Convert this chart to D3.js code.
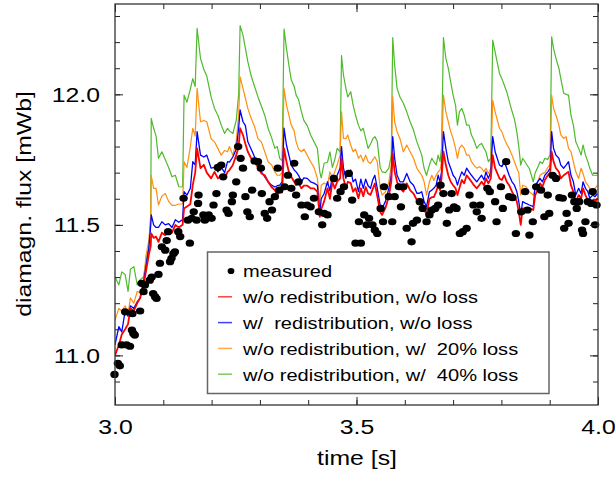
<!DOCTYPE html>
<html>
<head>
<meta charset="utf-8">
<script src="https://cdn.jsdelivr.net/npm/d3@7"></script>
<style>
body { margin: 0; background: #fff; }
text { font-family: "Liberation Sans", Arial, Helvetica, sans-serif; }
</style>
</head>
<body>
<script>
// time grid shared by the four simulated curves [s]
let simTime = [
  3.000,3.008,3.014,3.021,3.027,3.032,3.039,3.046,3.052,3.059,3.064,3.070,3.074,3.075,
  3.080,3.085,3.090,3.097,3.104,3.111,3.118,3.125,3.132,3.140,3.143,
  3.149,3.156,3.161,3.166,3.170,3.177,3.184,3.190,3.199,3.206,3.213,3.220,3.227,3.233,3.237,3.244,3.251,3.256,3.259,
  3.265,3.270,3.275,3.282,3.289,3.296,3.303,3.310,3.317,3.324,3.331,3.336,3.341,3.346,3.350,
  3.355,3.360,3.365,3.371,3.375,3.380,3.386,3.391,3.398,3.405,3.412,3.419,3.424,3.427,3.433,3.440,3.445,3.450,3.455,3.460,3.466,3.469,
  3.473,3.478,3.482,3.488,3.493,3.498,3.504,3.509,3.514,3.519,3.524,3.529,3.534,3.538,3.543,3.549,3.553,3.560,3.567,3.572,3.575,
  3.579,3.584,3.590,3.597,3.604,3.611,3.618,3.625,3.630,3.635,3.640,3.645,3.651,3.656,3.660,3.665,3.669,3.673,3.676,3.680,
  3.685,3.690,3.695,3.700,3.705,3.709,3.713,3.718,3.723,3.728,3.733,3.738,3.743,3.749,3.754,3.759,3.764,3.768,3.773,3.778,3.782,
  3.787,3.796,3.801,3.806,3.811,3.816,3.822,3.827,3.832,3.836,3.840,3.844,3.851,3.858,3.866,3.870,3.875,3.880,3.885,3.890,3.896,3.901,3.904,
  3.908,3.913,3.919,3.923,3.929,3.934,3.939,3.944,3.949,3.954,3.960,3.965,3.969,3.974,3.979,3.983,3.989,3.994,3.999
];

// w/o redistribution, w/o loss
let fluxRed = [
  11.00,11.04,11.08,11.10,11.12,11.18,11.17,11.20,11.22,11.27,11.32,11.385,11.42,11.467,
  11.45,11.455,11.435,11.47,11.46,11.48,11.47,11.50,11.49,11.50,11.563,
  11.57,11.58,11.652,11.70,11.793,11.717,11.73,11.70,11.678,11.703,11.678,11.69,11.678,11.703,11.71,11.729,11.767,11.80,11.87,
  11.844,11.81,11.78,11.755,11.742,11.72,11.697,11.69,11.665,11.645,11.633,11.614,11.64,11.625,11.793,
  11.742,11.703,11.684,11.665,11.652,11.66,11.64,11.65,11.65,11.64,11.64,11.627,11.531,11.56,11.59,11.64,11.60,11.665,11.64,11.665,11.678,11.755,
  11.678,11.64,11.665,11.66,11.627,11.64,11.602,11.64,11.61,11.645,11.62,11.615,11.64,11.659,11.61,11.55,11.538,11.565,11.61,11.665,11.774,
  11.703,11.665,11.64,11.627,11.659,11.633,11.62,11.595,11.60,11.59,11.563,11.538,11.60,11.606,11.606,11.627,11.652,11.633,11.678,11.78,
  11.729,11.69,11.665,11.652,11.64,11.614,11.64,11.672,11.659,11.69,11.678,11.665,11.652,11.64,11.652,11.665,11.652,11.678,11.659,11.678,11.767,
  11.717,11.678,11.672,11.69,11.665,11.652,11.627,11.608,11.589,11.55,11.50,11.563,11.563,11.563,11.557,11.614,11.633,11.659,11.646,11.672,11.69,11.70,11.78,
  11.742,11.717,11.703,11.678,11.69,11.697,11.703,11.652,11.627,11.589,11.614,11.60,11.64,11.614,11.595,11.582,11.595,11.589,11.602
];

// w/ redistribution, w/o loss
let fluxBlue = [
  11.04,11.11,11.09,11.17,11.15,11.19,11.18,11.205,11.22,11.28,11.34,11.41,11.50,11.538,
  11.50,11.49,11.49,11.512,11.50,11.505,11.49,11.52,11.51,11.52,11.627,
  11.614,11.64,11.742,11.73,11.857,11.767,11.76,11.767,11.717,11.72,11.703,11.72,11.70,11.742,11.74,11.76,11.79,11.87,11.94,
  11.895,11.88,11.818,11.79,11.76,11.729,11.703,11.684,11.665,11.652,11.645,11.65,11.652,11.665,11.87,
  11.806,11.767,11.729,11.71,11.703,11.69,11.665,11.68,11.678,11.665,11.66,11.652,11.55,11.60,11.62,11.665,11.63,11.69,11.665,11.69,11.717,11.80,
  11.717,11.678,11.70,11.71,11.665,11.675,11.627,11.675,11.64,11.675,11.65,11.64,11.675,11.69,11.64,11.576,11.563,11.59,11.64,11.69,11.838,
  11.755,11.69,11.665,11.665,11.697,11.665,11.652,11.621,11.621,11.627,11.589,11.569,11.627,11.633,11.64,11.652,11.69,11.665,11.703,11.857,
  11.793,11.742,11.717,11.69,11.678,11.652,11.678,11.703,11.69,11.717,11.703,11.69,11.678,11.665,11.678,11.69,11.672,11.703,11.678,11.703,11.838,
  11.78,11.729,11.723,11.742,11.717,11.69,11.665,11.652,11.627,11.589,11.538,11.589,11.582,11.576,11.57,11.652,11.665,11.678,11.665,11.69,11.703,11.717,11.857,
  11.793,11.767,11.755,11.729,11.717,11.729,11.742,11.69,11.665,11.614,11.64,11.62,11.665,11.64,11.627,11.602,11.614,11.608,11.62
];

// w/o redistribution, w/ 20% loss
let fluxOrange = [
  11.135,11.18,11.17,11.19,11.16,11.22,11.20,11.245,11.24,11.27,11.38,11.44,11.52,11.69,
  11.64,11.64,11.576,11.61,11.62,11.59,11.575,11.575,11.58,11.58,11.742,
  11.72,11.80,11.87,11.84,12.023,11.895,11.90,11.895,11.83,11.818,11.793,11.767,11.785,11.78,11.80,11.767,11.82,11.92,12.067,
  12.023,11.985,11.946,11.908,11.876,11.83,11.818,11.78,11.742,11.73,11.703,11.69,11.69,11.70,12.023,
  11.959,11.92,11.882,11.86,11.818,11.79,11.78,11.79,11.767,11.742,11.72,11.678,11.589,11.652,11.66,11.652,11.703,11.68,11.703,11.73,11.767,11.933,
  11.831,11.83,11.844,11.806,11.78,11.79,11.755,11.767,11.742,11.767,11.742,11.735,11.75,11.761,11.742,11.64,11.614,11.627,11.665,11.73,11.991,
  11.895,11.857,11.83,11.78,11.806,11.78,11.755,11.717,11.703,11.69,11.665,11.614,11.665,11.69,11.67,11.69,11.703,11.71,11.742,11.997,
  11.933,11.895,11.857,11.831,11.793,11.755,11.793,11.806,11.793,11.767,11.767,11.742,11.729,11.717,11.723,11.717,11.703,11.717,11.697,11.717,11.978,
  11.933,11.87,11.857,11.83,11.81,11.793,11.767,11.742,11.717,11.70,11.614,11.652,11.646,11.627,11.614,11.64,11.665,11.69,11.697,11.70,11.72,11.73,11.997,
  11.946,11.92,11.882,11.845,11.831,11.838,11.793,11.78,11.742,11.703,11.678,11.717,11.697,11.665,11.652,11.64,11.627,11.64,11.652
];

// w/o redistribution, w/ 40% loss
let fluxGreen = [
  11.30,11.27,11.32,11.31,11.245,11.33,11.34,11.27,11.29,11.30,11.36,11.42,11.54,11.908,
  11.87,11.84,11.755,11.78,11.75,11.72,11.684,11.69,11.646,11.645,11.997,
  11.97,12.02,12.06,12.03,12.253,12.138,12.095,12.07,11.99,11.946,11.92,11.882,11.85,11.87,11.86,11.85,11.90,12.00,12.263,
  12.227,12.176,12.125,12.07,12.03,11.99,11.955,11.92,11.87,11.835,11.793,11.80,11.755,11.745,12.25,
  12.176,12.112,12.055,12.03,11.997,11.98,11.933,11.90,11.88,11.844,11.818,11.793,11.703,11.68,11.736,11.74,11.78,11.72,11.75,11.793,11.78,12.148,
  12.074,12.023,11.99,12.01,11.959,11.92,11.882,11.86,11.87,11.831,11.793,11.81,11.83,11.838,11.82,11.72,11.703,11.70,11.717,11.767,12.217,
  12.112,12.023,11.99,11.966,11.933,11.895,11.863,11.818,11.793,11.767,11.717,11.69,11.73,11.755,11.742,11.73,11.767,11.742,11.793,12.217,
  12.138,12.10,12.048,11.997,11.959,11.882,11.933,11.946,11.92,11.882,11.882,11.844,11.825,11.793,11.806,11.812,11.793,11.78,11.742,11.755,12.208,
  12.163,12.08,12.06,12.035,12.01,11.975,11.935,11.905,11.855,11.80,11.729,11.755,11.735,11.715,11.665,11.70,11.72,11.742,11.735,11.755,11.75,11.77,12.22,
  12.176,12.138,12.10,12.06,12.004,12.00,11.997,11.92,11.882,11.818,11.793,11.767,11.806,11.767,11.742,11.717,11.69,11.69,11.69
];

// measured points [time s, flux mWb]
let measured = [
  [2.999,10.927],[3.006,10.97],[3.010,10.96],[3.014,11.04],[3.021,11.167],[3.024,11.04],[3.031,11.035],
  [3.035,11.097],[3.036,11.16],[3.038,11.084],[3.041,11.078],[3.052,11.17],[3.055,11.276],[3.059,11.244],
  [3.062,11.27],[3.072,11.288],[3.076,11.30],[3.079,11.237],[3.083,11.225],[3.086,11.218],[3.090,11.31],
  [3.093,11.353],[3.097,11.416],[3.104,11.403],[3.107,11.44],[3.110,11.474],[3.114,11.359],[3.117,11.372],
  [3.121,11.39],[3.124,11.397],[3.131,11.474],[3.135,11.455],[3.142,11.602],[3.151,11.518],[3.155,11.43],
  [3.159,11.525],[3.163,11.55],[3.169,11.518],[3.172,11.582],[3.173,11.614],[3.183,11.538],[3.186,11.518],
  [3.190,11.525],[3.194,11.538],[3.200,11.525],[3.204,11.576],[3.210,11.62],[3.213,11.72],[3.220,11.729],
  [3.224,11.684],[3.231,11.557],[3.235,11.544],[3.242,11.589],[3.244,11.614],[3.251,11.665],[3.255,11.80],
  [3.260,11.755],[3.265,11.717],[3.270,11.608],[3.274,11.55],[3.279,11.531],[3.284,11.633],[3.289,11.745],
  [3.296,11.742],[3.302,11.717],[3.304,11.62],[3.310,11.544],[3.315,11.525],[3.320,11.589],[3.325,11.557],
  [3.331,11.608],[3.337,11.717],[3.340,11.633],[3.351,11.646],[3.358,11.69],[3.365,11.64],[3.371,11.736],
  [3.375,11.614],[3.380,11.665],[3.386,11.576],[3.393,11.531],[3.398,11.576],[3.405,11.569],[3.412,11.602],
  [3.422,11.55],[3.429,11.50],[3.433,11.544],[3.440,11.538],[3.453,11.678],[3.460,11.602],[3.467,11.627],
  [3.474,11.646],[3.484,11.697],[3.491,11.595],[3.498,11.43],[3.505,11.512],[3.509,11.43],[3.516,11.538],
  [3.521,11.50],[3.526,11.525],[3.533,11.50],[3.538,11.48],[3.543,11.467],[3.550,11.563],[3.555,11.512],
  [3.557,11.646],[3.567,11.608],[3.574,11.512],[3.579,11.608],[3.588,11.646],[3.592,11.569],[3.597,11.646],
  [3.604,11.487],[3.614,11.435],[3.617,11.506],[3.625,11.518],[3.631,11.589],[3.637,11.563],[3.645,11.512],
  [3.651,11.538],[3.656,11.557],[3.663,11.563],[3.669,11.576],[3.674,11.652],[3.680,11.62],[3.687,11.506],
  [3.692,11.557],[3.697,11.62],[3.702,11.569],[3.707,11.563],[3.714,11.467],[3.720,11.474],[3.728,11.487],
  [3.734,11.614],[3.742,11.576],[3.749,11.55],[3.756,11.576],[3.759,11.525],[3.771,11.64],[3.776,11.627],
  [3.787,11.589],[3.790,11.512],[3.799,11.646],[3.803,11.563],[3.810,11.742],[3.816,11.608],[3.823,11.604],
  [3.830,11.467],[3.841,11.55],[3.849,11.627],[3.854,11.557],[3.858,11.461],[3.865,11.512],[3.872,11.646],
  [3.882,11.633],[3.889,11.531],[3.896,11.614],[3.899,11.544],[3.906,11.69],[3.913,11.678],[3.920,11.604],
  [3.927,11.602],[3.930,11.487],[3.935,11.544],[3.939,11.506],[3.946,11.614],[3.951,11.589],[3.956,11.563],
  [3.961,11.589],[3.967,11.48],[3.969,11.467],[3.974,11.512],[3.979,11.589],[3.986,11.582],[3.989,11.627],
  [3.994,11.50],[3.997,11.576]
];

let xMinorTicks = [3.0, 3.1, 3.2, 3.3, 3.4, 3.5, 3.6, 3.7, 3.8, 3.9, 4.0];
let xMajorTicks = [3.0, 3.5, 4.0];
let yMinorTicks = [10.9, 11.0, 11.1, 11.2, 11.3, 11.4, 11.5, 11.6, 11.7, 11.8, 11.9, 12.0, 12.1, 12.2, 12.3];
let yMajorTicks = [11.0, 11.5, 12.0];

let legendLabels = ["measured", "w/o redistribution, w/o loss", "w/  redistribution, w/o loss",
                    "w/o redistribution, w/  20% loss", "w/o redistribution, w/  40% loss"];

let width = 615;
let height = 477;
let plotLeft = 115, plotRight = 598, plotTop = 4, plotBottom = 405;
let stretch = 1.18;   // the original lettering is a bit wide

let svg = d3.select("body")
    .append("svg")
    .attr("width", width)
    .attr("height", height);

svg.append("rect").attr("width", width).attr("height", height).attr("fill", "#fff");

let x = d3.scaleLinear().domain([3, 4]).range([plotLeft, plotRight]);
let y = d3.scaleLinear().domain([10.81, 12.346]).range([plotBottom, plotTop]);

svg.append("clipPath").attr("id", "plotClip")
  .append("rect")
    .attr("x", plotLeft).attr("y", plotTop)
    .attr("width", plotRight - plotLeft).attr("height", plotBottom - plotTop);

// curves: green under orange under blue under red
let series = [
    { values: fluxGreen,  color: "#4fba2c", width: 1.2 },
    { values: fluxOrange, color: "#ff8f0f", width: 1.2 },
    { values: fluxBlue,   color: "#0000ff", width: 1.3 },
    { values: fluxRed,    color: "#ff0000", width: 1.8 }
];

let line = d3.line()
    .x(function(d) { return x(d[0]); })
    .y(function(d) { return y(d[1]); });

let curves = svg.append("g").attr("clip-path", "url(#plotClip)");
series.forEach(function(s) {
    let pts = simTime.map(function(t, i) { return [t, s.values[i]]; });
    curves.append("path")
        .datum(pts)
        .attr("fill", "none")
        .attr("stroke", s.color)
        .attr("stroke-width", s.width)
        .attr("stroke-linejoin", "round")
        .attr("d", line);
});

svg.append("g")
    .selectAll("ellipse")
    .data(measured)
    .enter().append("ellipse")
        .attr("cx", function(d) { return x(d[0]); })
        .attr("cy", function(d) { return y(d[1]); })
        .attr("rx", 4.2)
        .attr("ry", 3.6)
        .attr("fill", "#000");

// axes, ticks pointing inward on all four sides
function addAxis(axis, tx, ty) {
    let g = svg.append("g")
        .attr("transform", "translate(" + tx + "," + ty + ")")
        .call(axis);
    // d3 sets its own font on the group, so override afterwards
    g.attr("font-size", 21)
     .attr("font-family", '"Liberation Sans", Arial, sans-serif');
    g.select(".domain").remove();
    g.selectAll("line").attr("stroke", "#222").attr("stroke-width", 1);
    g.selectAll("text")
        .attr("fill", "#000")
        .attr("x", function() { return (+this.getAttribute("x") || 0) / stretch; })
        .attr("transform", "scale(" + stretch + ",1)");
    return g;
}

addAxis(d3.axisBottom(x).tickValues(xMinorTicks).tickSize(-5).tickFormat(""), 0, plotBottom);
addAxis(d3.axisBottom(x).tickValues(xMajorTicks).tickSize(-8).tickPadding(14).tickFormat(d3.format(".1f")), 0, plotBottom);
addAxis(d3.axisTop(x).tickValues(xMinorTicks).tickSize(-5).tickFormat(""), 0, plotTop);
addAxis(d3.axisTop(x).tickValues(xMajorTicks).tickSize(-8).tickFormat(""), 0, plotTop);
addAxis(d3.axisLeft(y).tickValues(yMinorTicks).tickSize(-5).tickFormat(""), plotLeft, 0);
addAxis(d3.axisLeft(y).tickValues(yMajorTicks).tickSize(-8).tickPadding(15).tickFormat(d3.format(".1f")), plotLeft, 0);
addAxis(d3.axisRight(y).tickValues(yMinorTicks).tickSize(-5).tickFormat(""), plotRight, 0);
addAxis(d3.axisRight(y).tickValues(yMajorTicks).tickSize(-8).tickFormat(""), plotRight, 0);

svg.append("rect")
    .attr("x", plotLeft).attr("y", plotTop)
    .attr("width", plotRight - plotLeft).attr("height", plotBottom - plotTop)
    .attr("fill", "none")
    .attr("stroke", "#333")
    .attr("stroke-width", 1.3);

svg.append("text")
    .attr("transform", "translate(357,465) scale(" + stretch + ",1)")
    .attr("text-anchor", "middle")
    .attr("font-size", 21)
    .text("time [s]");

svg.append("text")
    .attr("transform", "translate(31,204) rotate(-90) scale(" + stretch + ",1)")
    .attr("text-anchor", "middle")
    .attr("font-size", 21)
    .text("diamagn. flux [mWb]");

// legend
let legendX = 207.5, legendY = 252, legendRow = 25.8;
let legend = svg.append("g");

legend.append("rect")
    .attr("x", legendX).attr("y", legendY)
    .attr("width", 341.5).attr("height", 141.5)
    .attr("fill", "none")
    .attr("stroke", "#666")
    .attr("stroke-width", 1.5);

legend.append("ellipse")
    .attr("cx", 231).attr("cy", legendY + 19)
    .attr("rx", 3.4).attr("ry", 3.1)
    .attr("fill", "#000");

let legendColors = ["#ff0000", "#0000ff", "#ff8f0f", "#4fba2c"];
legend.selectAll("line")
    .data(legendColors)
    .enter().append("line")
        .attr("x1", 218).attr("x2", 232)
        .attr("y1", function(d, i) { return legendY + 19 + (i + 1) * legendRow; })
        .attr("y2", function(d, i) { return legendY + 19 + (i + 1) * legendRow; })
        .attr("stroke", function(d) { return d; })
        .attr("stroke-opacity", 0.75)
        .attr("stroke-width", 1.5);

legend.selectAll("text")
    .data(legendLabels)
    .enter().append("text")
        .attr("transform", function(d, i) {
            return "translate(243," + (legendY + 25.3 + i * legendRow) + ") scale(" + stretch + ",1)";
        })
        .attr("font-size", 17)
        .style("white-space", "pre")
        .text(function(d) { return d; });
</script>
</body>
</html>
